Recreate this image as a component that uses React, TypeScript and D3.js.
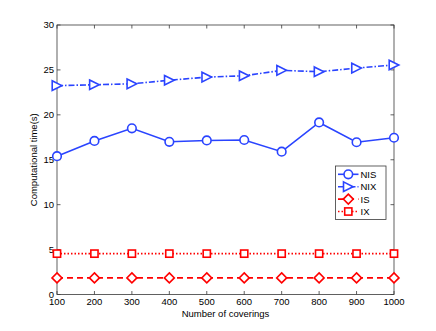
import { useEffect, useRef } from 'react';
import * as d3 from 'd3';

const coverings = [100, 200, 300, 400, 500, 600, 700, 800, 900, 1000];
const nis = [15.4, 17.1, 18.5, 17.0, 17.15, 17.2, 15.9, 19.15, 16.95, 17.45];
const nix = [23.25, 23.35, 23.45, 23.85, 24.2, 24.35, 24.95, 24.8, 25.2, 25.55];
const is = [1.85, 1.85, 1.85, 1.85, 1.85, 1.85, 1.85, 1.85, 1.85, 1.85];
const ix = [4.55, 4.55, 4.55, 4.55, 4.55, 4.55, 4.55, 4.55, 4.55, 4.55];
const yTicks = [0, 5, 10, 15, 20, 25, 30];

const BLUE = '#2a44ff';
const RED = '#ff0000';

const series = [
  { name: 'NIS', values: nis, color: BLUE, dash: null, marker: 'circle' },
  { name: 'NIX', values: nix, color: BLUE, dash: '6,2,1.5,2', marker: 'triangle' },
  { name: 'IS', values: is, color: RED, dash: '6,4', marker: 'diamond' },
  { name: 'IX', values: ix, color: RED, dash: '1.5,2', marker: 'square' },
];

const App = () => {
  const svgRef = useRef(null);

  useEffect(() => {
    drawChart();
  }, []);

  const drawChart = () => {
    const width = 436;
    const height = 331;
    const left = 57, right = 394, top = 25, bottom = 294.5;
    const svg = d3.select(svgRef.current);
    svg.selectAll('*').remove();
    svg.attr('width', width).attr('height', height)
      .style('font-family', '"Liberation Sans", Arial, sans-serif');

    const x = d3.scaleLinear().domain([100, 1000]).range([left, right]);
    const y = d3.scaleLinear().domain([0, 30]).range([bottom, top]);

    const axisColor = '#3a3a3a';
    const tk = 3.5;

    // box
    svg.append('rect')
      .attr('x', left).attr('y', top)
      .attr('width', right - left).attr('height', bottom - top)
      .attr('fill', 'none').attr('stroke', axisColor).attr('stroke-width', 0.8);

    // x ticks
    coverings.forEach(v => {
      svg.append('line').attr('x1', x(v)).attr('x2', x(v)).attr('y1', bottom).attr('y2', bottom - tk)
        .attr('stroke', axisColor).attr('stroke-width', 0.8);
      svg.append('line').attr('x1', x(v)).attr('x2', x(v)).attr('y1', top).attr('y2', top + tk)
        .attr('stroke', axisColor).attr('stroke-width', 0.8);
      svg.append('text').attr('x', x(v)).attr('y', bottom + 10)
        .attr('text-anchor', 'middle').attr('font-size', 9.5).attr('fill', '#000')
        .text(v);
    });

    yTicks.forEach(v => {
      svg.append('line').attr('x1', left).attr('x2', left + tk).attr('y1', y(v)).attr('y2', y(v))
        .attr('stroke', axisColor).attr('stroke-width', 0.8);
      svg.append('line').attr('x1', right).attr('x2', right - tk).attr('y1', y(v)).attr('y2', y(v))
        .attr('stroke', axisColor).attr('stroke-width', 0.8);
      svg.append('text').attr('x', left - 3).attr('y', y(v) + 3.4)
        .attr('text-anchor', 'end').attr('font-size', 9.5).attr('fill', '#000')
        .text(v);
    });

    svg.append('text')
      .attr('x', (left + right) / 2).attr('y', 316.5)
      .attr('text-anchor', 'middle').attr('font-size', 9.5)
      .text('Number of coverings');

    svg.append('text')
      .attr('transform', `translate(37,${(top + bottom) / 2}) rotate(-90)`)
      .attr('text-anchor', 'middle').attr('font-size', 9.5)
      .text('Computational time(s)');

    const drawMarker = (g, kind, cx, cy, color) => {
      if (kind === 'circle') {
        g.append('circle').attr('cx', cx).attr('cy', cy).attr('r', 4.3)
          .attr('fill', '#fff').attr('stroke', color).attr('stroke-width', 1.6);
      } else if (kind === 'triangle') {
        const s = 4.8;
        g.append('path').attr('d', `M${cx - s},${cy - s}L${cx + s},${cy}L${cx - s},${cy + s}Z`)
          .attr('fill', '#fff').attr('stroke', color).attr('stroke-width', 1.6);
      } else if (kind === 'diamond') {
        const s = 5;
        g.append('path').attr('d', `M${cx},${cy - s}L${cx + s},${cy}L${cx},${cy + s}L${cx - s},${cy}Z`)
          .attr('fill', '#fff').attr('stroke', color).attr('stroke-width', 1.6);
      } else {
        const s = 3.6;
        g.append('rect').attr('x', cx - s).attr('y', cy - s).attr('width', 2 * s).attr('height', 2 * s)
          .attr('fill', '#fff').attr('stroke', color).attr('stroke-width', 1.6);
      }
    };

    const line = d3.line().x(d => x(d[0])).y(d => y(d[1]));

    series.forEach(s => {
      const pts = coverings.map((c, i) => [c, s.values[i]]);
      const g = svg.append('g');
      g.append('path').attr('d', line(pts))
        .attr('fill', 'none').attr('stroke', s.color).attr('stroke-width', 1.6)
        .attr('stroke-dasharray', s.dash);
      pts.forEach(p => drawMarker(g, s.marker, x(p[0]), y(p[1]), s.color));
    });

    // legend
    const lx = 335.5, ly = 166;
    svg.append('rect').attr('x', lx).attr('y', ly).attr('width', 50.5).attr('height', 53.5)
      .attr('fill', '#fff').attr('stroke', axisColor).attr('stroke-width', 0.8);
    series.forEach((s, i) => {
      const cy = ly + 8.3 + i * 12.4;
      const g = svg.append('g');
      g.append('line').attr('x1', lx + 2.5).attr('x2', lx + 23).attr('y1', cy).attr('y2', cy)
        .attr('stroke', s.color).attr('stroke-width', 1.6).attr('stroke-dasharray', s.dash);
      drawMarker(g, s.marker, lx + 12.8, cy, s.color);
      g.append('text').attr('x', lx + 25).attr('y', cy + 3.4).attr('font-size', 9.5).text(s.name);
    });
  };

  return <svg ref={svgRef} width={436} height={331} style={{ position: 'absolute', left: 0, top: 0 }} />;
};

export default App;
